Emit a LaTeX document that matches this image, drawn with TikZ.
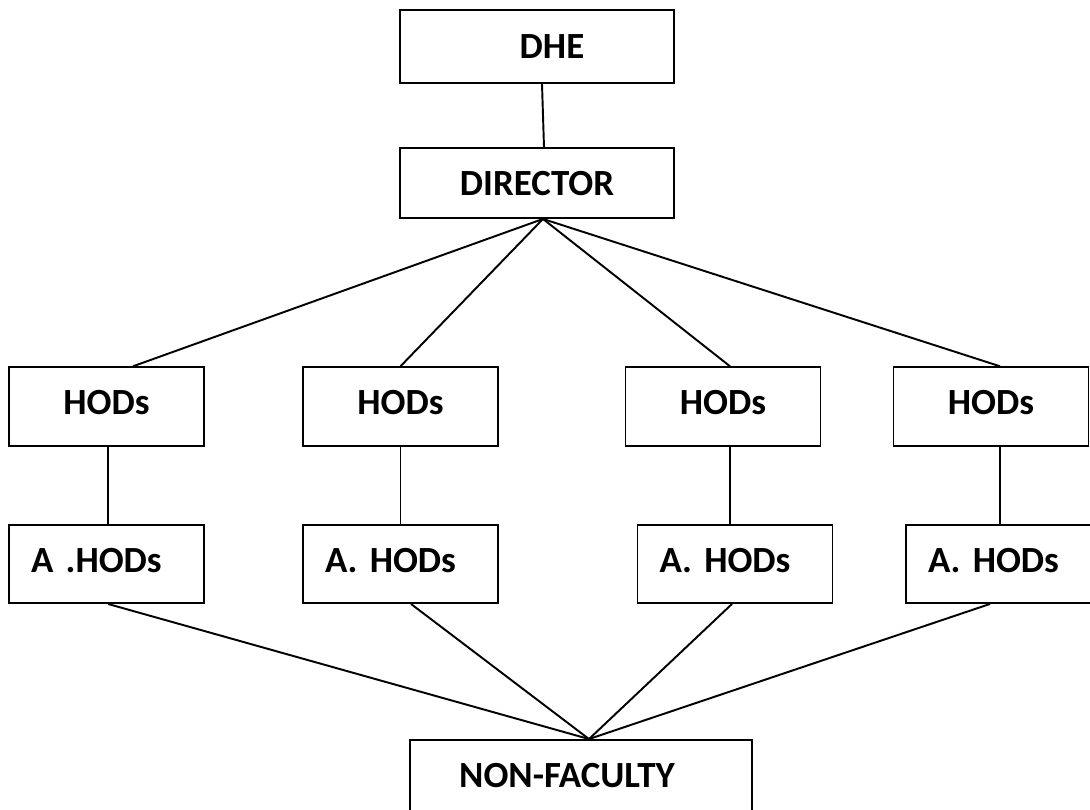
\documentclass[tikz,border=0pt]{standalone}
\usepackage{fontspec}
\setmainfont{Carlito}
\usetikzlibrary{shapes}

\begin{document}
\begin{tikzpicture}[x=0.02cm,y=-0.02cm]
\tikzset{box/.style = {shape=rectangle,draw,line width=1.1pt,minimum width=3.9cm,minimum height=1.57cm,inner sep=0pt,text depth=0.16cm,font=\fontsize{21}{25}\selectfont\bfseries}}
\tikzset{abox/.style = {box,minimum height=1.56cm,text width=3.02cm,inner xsep=0.44cm,align=left}}
\tikzset{link/.style = {line width=1.1pt}}
\useasboundingbox (0,0) rectangle (1090,810);

\node[box,text depth=0pt,minimum width=5.48cm,minimum height=1.46cm] (dhe) at (537,46.5) {\hspace*{0.6cm}DHE};
\node[box,text depth=0pt,minimum width=5.48cm,minimum height=1.4cm] (dir) at (537,183) {DIRECTOR};

\node[box] (hod1) at (106.5,406.5) {HODs};
\node[box] (hod2) at (400.5,406.5) {HODs};
\node[box] (hod3) at (723,406.5) {HODs};
\node[box] (hod4) at (991,406.5) {HODs};

\node[abox] (ahod1) at (106.5,564) {A .HODs};
\node[abox] (ahod2) at (400.5,564) {A. HODs};
\node[abox] (ahod3) at (735,564) {A. HODs};
\node[abox] (ahod4) at (1003.5,564) {A. HODs};

\node[box,minimum width=6.84cm,minimum height=1.56cm] (nonf) at (581,779) {NON-FACULTY\hspace*{0.56cm}};

\draw[link] ([xshift=0.1cm]dhe.south) -- ([xshift=0.14cm]dir.north);

\draw[link] ([xshift=0.12cm]dir.south) -- ([xshift=0.53cm]hod1.north);
\draw[link] ([xshift=0.12cm]dir.south) -- (hod2.north);
\draw[link] ([xshift=0.12cm]dir.south) -- ([xshift=0.14cm]hod3.north);
\draw[link] ([xshift=0.12cm]dir.south) -- ([xshift=0.18cm]hod4.north);

\draw[link] ([xshift=0.03cm]hod1.south) -- ([xshift=0.03cm]ahod1.north);
\draw[link] (hod2.south) -- (ahod2.north);
\draw[link] ([xshift=0.14cm]hod3.south) -- ([xshift=-0.1cm]ahod3.north);
\draw[link] ([xshift=0.18cm]hod4.south) -- ([xshift=-0.07cm]ahod4.north);

\draw[link] ([xshift=0.03cm]ahod1.south) -- ([xshift=0.16cm]nonf.north);
\draw[link] ([xshift=0.21cm]ahod2.south) -- ([xshift=0.16cm]nonf.north);
\draw[link] ([xshift=-0.06cm]ahod3.south) -- ([xshift=0.16cm]nonf.north);
\draw[link] ([xshift=-0.27cm]ahod4.south) -- ([xshift=0.16cm]nonf.north);
\end{tikzpicture}
\end{document}
